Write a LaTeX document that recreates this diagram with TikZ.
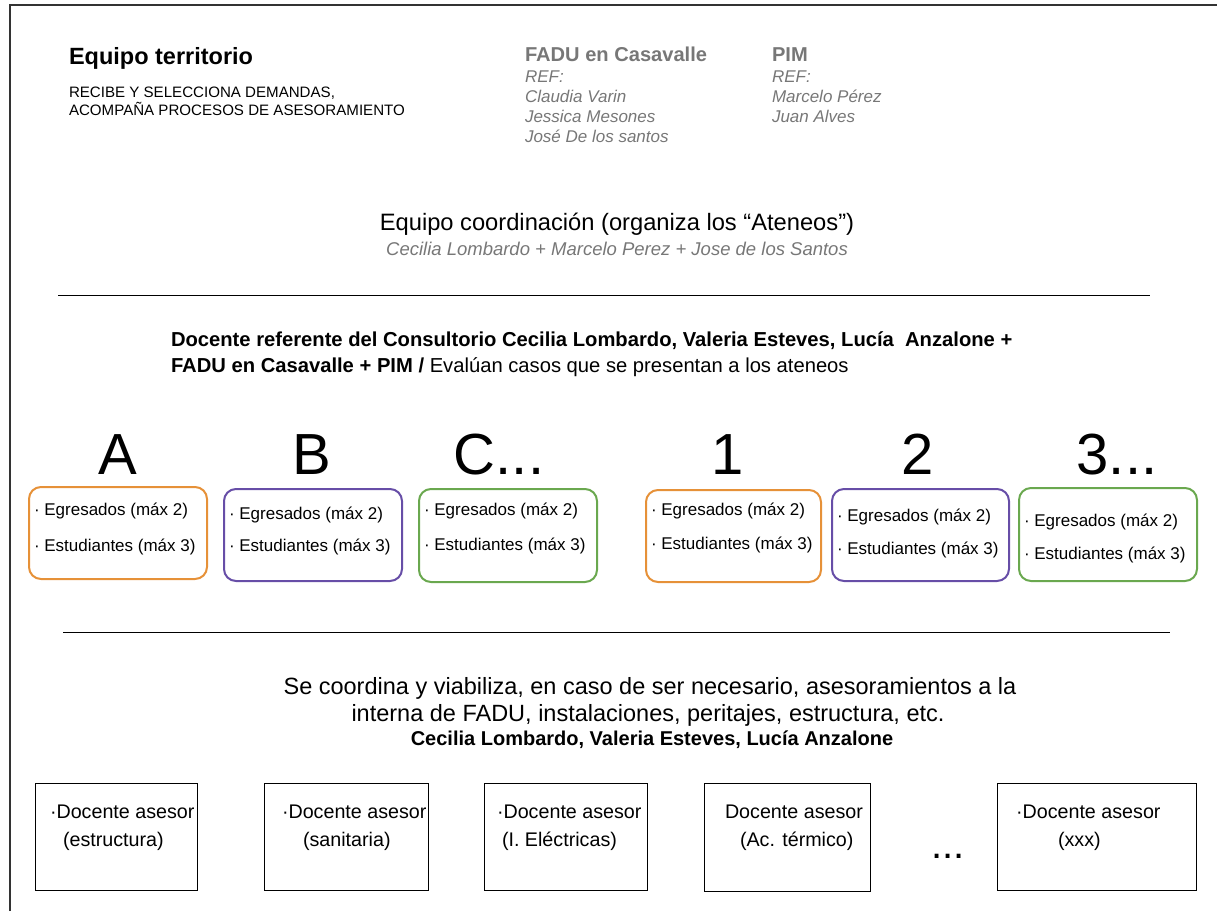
\documentclass[tikz,border=0pt]{standalone}
\usepackage{fontspec}
\setmainfont{Liberation Sans}
\definecolor{frm}{HTML}{333333}
\definecolor{gtxt}{HTML}{777777}
\definecolor{gital}{HTML}{777777}
\definecolor{orng}{HTML}{E69138}
\definecolor{purp}{HTML}{674EA7}
\definecolor{grn}{HTML}{6AA84F}
\tikzset{
  txt/.style={inner sep=0pt, outer sep=0pt, anchor=base west},
  ctxt/.style={inner sep=0pt, outer sep=0pt, anchor=base},
  rbox/.style={draw, line width=2pt, rounded corners=12pt, inner sep=0pt, anchor=north west},
  sbox/.style={draw=black, line width=1pt, inner sep=0pt, anchor=north west},
  sep/.style={draw=black, line width=0.8pt},
  big/.style={ctxt, font=\fontsize{58}{64}\selectfont},
  boxt/.style={txt, font=\fontsize{17}{20}\selectfont},
  dtxt/.style={txt, font=\fontsize{19.7}{24}\selectfont},
  gi/.style={txt, gital, font=\fontsize{17}{20}\selectfont\itshape},
}
\begin{document}
\begin{tikzpicture}[x=1pt,y=-1pt]
\useasboundingbox (0,0) rectangle (1217,911);
\draw[frm, line width=1.5pt] (10,911) -- (10,5) -- (1217,5);

% header left
\node[txt, font=\fontsize{23.5}{28}\selectfont\bfseries] (eqt) at (69,64) {Equipo territorio};
\node[txt, font=\fontsize{15.1}{18}\selectfont] (rec1) at (69,97) {RECIBE Y SELECCIONA DEMANDAS,};
\node[txt, font=\fontsize{15.1}{18}\selectfont] (rec2) at (69,115) {ACOMPAÑA PROCESOS DE ASESORAMIENTO};

% FADU en Casavalle
\node[txt, gtxt, font=\fontsize{20.1}{24}\selectfont\bfseries] (fadu) at (525,61) {FADU en Casavalle};
\node[gi] (f1) at (525,82) {REF:};
\node[gi] (f2) at (525,102) {Claudia Varin};
\node[gi] (f3) at (525,122) {Jessica Mesones};
\node[gi] (f4) at (525,142) {José De los santos};

% PIM
\node[txt, gtxt, font=\fontsize{20.1}{24}\selectfont\bfseries] (pim) at (772,61) {PIM};
\node[gi] (p1) at (772,82) {REF:};
\node[gi] (p2) at (772,102) {Marcelo Pérez};
\node[gi] (p3) at (772,122) {Juan Alves};

% coordination
\node[ctxt, font=\fontsize{23.7}{28}\selectfont] (coord) at (617,230) {Equipo coordinación (organiza los “Ateneos”)};
\node[ctxt, gital, font=\fontsize{18.5}{22}\selectfont\itshape] (coordn) at (617,255) {Cecilia Lombardo + Marcelo Perez + Jose de los Santos};

\draw[sep] (58,295) -- (1150,295);

% docente referente
\node[txt, font=\fontsize{20.2}{24}\selectfont\bfseries] (dr1) at (171,346) {Docente referente del Consultorio Cecilia Lombardo, Valeria Esteves, Lucía\ \ Anzalone +};
\node[txt, font=\fontsize{20.2}{24}\selectfont] (dr2) at (171,372) {\textbf{FADU en Casavalle + PIM /} Evalúan casos que se presentan a los ateneos};

% big letters
\node[big] (LA) at (118,474) {A};
\node[big] (LB) at (312,474) {B};
\node[big] (LC) at (499,474) {C...};
\node[big] (L1) at (728,474) {1};
\node[big] (L2) at (918,474) {2};
\node[big] (L3) at (1117,474) {3...};

% rounded boxes
\node[rbox, draw=orng, minimum width=178pt, minimum height=92pt] (bA) at (28,486) {};
\node[rbox, draw=purp, minimum width=178pt, minimum height=92pt] (bB) at (223,488) {};
\node[rbox, draw=grn, minimum width=178pt, minimum height=93pt] (bC) at (418,488) {};
\node[rbox, draw=orng, minimum width=175pt, minimum height=92pt] (b1) at (645,489) {};
\node[rbox, draw=purp, minimum width=177pt, minimum height=92pt] (b2) at (831,488) {};
\node[rbox, draw=grn, minimum width=178pt, minimum height=93pt] (b3) at (1018,487) {};

\node[boxt] (tA1) at (34,515) {· Egresados (máx 2)};
\node[boxt] (tA2) at (34,551) {· Estudiantes (máx 3)};
\node[boxt] (tB1) at (229,519) {· Egresados (máx 2)};
\node[boxt] (tB2) at (229,551) {· Estudiantes (máx 3)};
\node[boxt] (tC1) at (424,515) {· Egresados (máx 2)};
\node[boxt] (tC2) at (424,550) {· Estudiantes (máx 3)};
\node[boxt] (t11) at (651,515) {· Egresados (máx 2)};
\node[boxt] (t12) at (651,549) {· Estudiantes (máx 3)};
\node[boxt] (t21) at (837,521) {· Egresados (máx 2)};
\node[boxt] (t22) at (837,554) {· Estudiantes (máx 3)};
\node[boxt] (t31) at (1024,526) {· Egresados (máx 2)};
\node[boxt] (t32) at (1024,559) {· Estudiantes (máx 3)};

\draw[sep] (63,632) -- (1170,632);

% coordination text
\node[ctxt, font=\fontsize{23.5}{28}\selectfont] (sc1) at (650,694) {Se coordina y viabiliza, en caso de ser necesario, asesoramientos a la};
\node[ctxt, font=\fontsize{23.5}{28}\selectfont] (sc2) at (648,721) {interna de FADU, instalaciones, peritajes, estructura, etc.};
\node[ctxt, font=\fontsize{20}{24}\selectfont\bfseries] (sc3) at (652,745) {Cecilia Lombardo, Valeria Esteves, Lucía Anzalone};

% docente asesor boxes
\node[sbox, minimum width=162pt, minimum height=107pt] (d1) at (35,783) {};
\node[sbox, minimum width=164pt, minimum height=107pt] (d2) at (264,783) {};
\node[sbox, minimum width=163pt, minimum height=107pt] (d3) at (484,783) {};
\node[sbox, minimum width=166pt, minimum height=108pt] (d4) at (704,783) {};
\node[sbox, minimum width=199pt, minimum height=107pt] (d5) at (997,783) {};

\node[dtxt] (d1a) at (50,818) {·Docente asesor};
\node[dtxt] (d1b) at (63,846) {(estructura)};
\node[dtxt] (d2a) at (282,818) {·Docente asesor};
\node[dtxt] (d2b) at (303,846) {(sanitaria)};
\node[dtxt] (d3a) at (497,818) {·Docente asesor};
\node[dtxt] (d3b) at (502,846) {(I. Eléctricas)};
\node[dtxt] (d4a) at (725,818) {Docente asesor};
\node[dtxt] (d4b) at (740,846) {(Ac. térmico)};
\node[dtxt] (d5a) at (1016,818) {·Docente asesor};
\node[dtxt] (d5b) at (1058,846) {(xxx)};
\node[ctxt, font=\fontsize{40}{44}\selectfont] (dots) at (948,858) {...};
\end{tikzpicture}
\end{document}
